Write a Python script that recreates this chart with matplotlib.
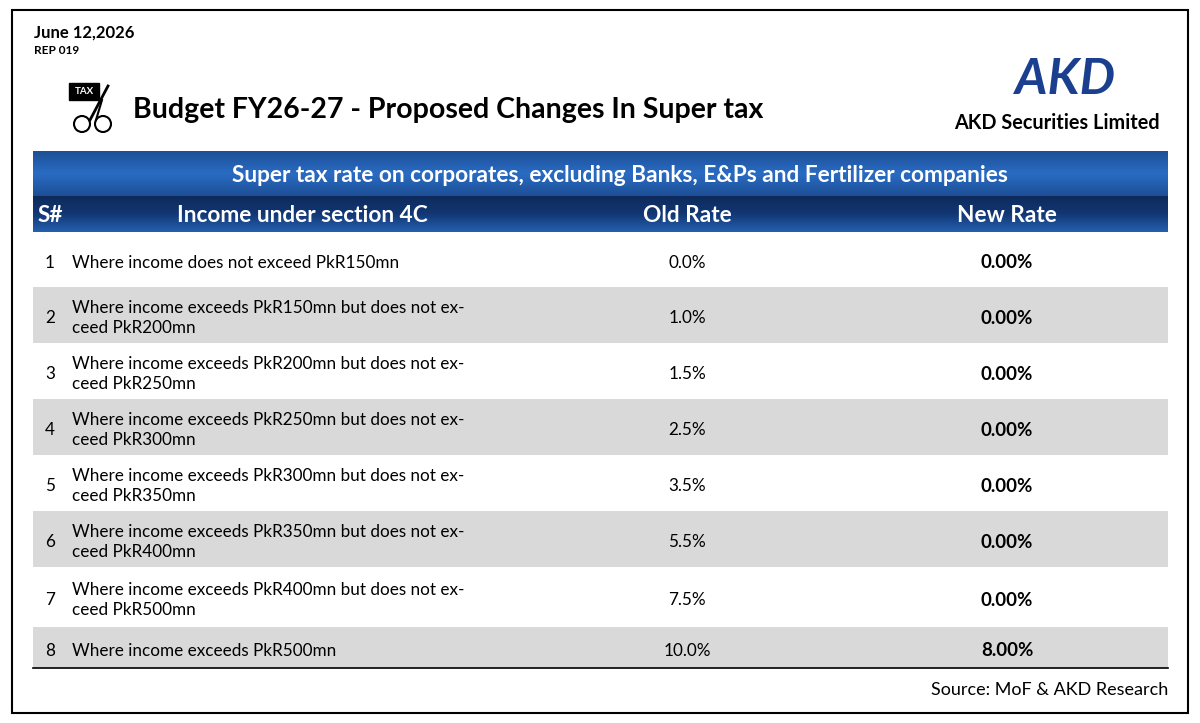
import numpy as np
import matplotlib
matplotlib.use("Agg")
import matplotlib.pyplot as plt
from matplotlib.patches import Rectangle, Circle

plt.rcParams['font.family'] = ['Lato', 'DejaVu Sans']

# données du tableau
serials = ["1", "2", "3", "4", "5", "6", "7", "8"]
incomes = [
    "Where income does not exceed PkR150mn",
    "Where income exceeds PkR150mn but does not ex-\nceed PkR200mn",
    "Where income exceeds PkR200mn but does not ex-\nceed PkR250mn",
    "Where income exceeds PkR250mn but does not ex-\nceed PkR300mn",
    "Where income exceeds PkR300mn but does not ex-\nceed PkR350mn",
    "Where income exceeds PkR350mn but does not ex-\nceed PkR400mn",
    "Where income exceeds PkR400mn but does not ex-\nceed PkR500mn",
    "Where income exceeds PkR500mn",
]
old_rates = [0.0, 1.0, 1.5, 2.5, 3.5, 5.5, 7.5, 10.0]
new_rates = [0.0, 0.0, 0.0, 0.0, 0.0, 0.0, 0.0, 8.0]
headers = ["S#", "Income under section 4C", "Old Rate", "New Rate"]

fig = plt.figure(figsize=(12, 7.23), dpi=100)
ax = fig.add_axes([0, 0, 1, 1])
ax.set_xlim(0, 1200)
ax.set_ylim(723, 0)
ax.axis('off')

# cadre extérieur
ax.add_patch(Rectangle((12, 10), 1176, 703, fill=False, ec='black', lw=1.5))

ax.text(34, 33, "June 12,2026", fontsize=12, fontweight='bold', va='center')
ax.text(34, 51, "REP 019", fontsize=8.5, fontweight='bold', va='center')
ax.text(133, 110, "Budget FY26-27 - Proposed Changes In Super tax",
        fontsize=20.5, fontweight='bold', va='center')

# icône taxe
ax.add_patch(Rectangle((69, 83), 30, 17, fc='black', ec='black'))
ax.text(84, 91.5, "TAX", color='white', fontsize=7, fontweight='bold', ha='center', va='center')
ax.plot([108, 90], [86, 120], color='black', lw=2)
ax.plot([102, 96], [100, 120], color='black', lw=1.5)
ax.add_patch(Circle((82, 124), 8, fill=False, ec='black', lw=1.5))
ax.add_patch(Circle((103, 124), 8, fill=False, ec='black', lw=1.5))

# logo
ax.text(1065, 80, "AKD", fontsize=36, fontweight='bold', style='italic',
        color='#1b3f8f', ha='center', va='center')
ax.text(1057, 123, "AKD Securities Limited", fontsize=14.3, fontweight='bold',
        ha='center', va='center')

# bandeaux dégradés
def gradient(y0, y1, c_top, c_mid, c_bot):
    t = np.linspace(0, 1, 64)
    c_top, c_mid, c_bot = [np.array(matplotlib.colors.to_rgb(c)) for c in (c_top, c_mid, c_bot)]
    cols = np.array([c_top + (c_mid - c_top) * 2 * s if s < 0.5 else c_mid + (c_bot - c_mid) * (2 * s - 1) for s in t])
    ax.imshow(cols[:, None, :], extent=(33, 1168, y1, y0), aspect='auto', zorder=1)

gradient(151, 196, '#1d4f96', '#2a6cc4', '#1d4f96')
gradient(196, 232, '#0e2a5c', '#123774', '#2560b0')
ax.text(620, 175, "Super tax rate on corporates, excluding Banks, E&Ps and Fertilizer companies",
        color='white', fontsize=16.3, fontweight='bold', ha='center', va='center', zorder=3)
hx = [38, 302, 687, 1007]
for i, h in enumerate(headers):
    ax.text(hx[i], 216, h, color='white', fontsize=16.3, fontweight='bold',
            ha='left' if i == 0 else 'center', va='center', zorder=3)

# lignes du tableau
edges = [232, 287, 343, 399, 455, 511, 567, 627, 668]
for i in range(len(serials)):
    y0, y1 = edges[i], edges[i + 1]
    if i % 2 == 1:
        ax.add_patch(Rectangle((33, y0), 1135, y1 - y0, fc='#d9d9d9', ec='none', zorder=1))
    yc = (y0 + y1) / 2 + 3
    ax.text(50, yc, serials[i], fontsize=12.3, ha='center', va='center', zorder=3)
    ax.text(72, yc, incomes[i], fontsize=12.3, ha='left', va='center', linespacing=1.35, zorder=3)
    ax.text(687, yc, f"{old_rates[i]:.1f}%", fontsize=12.3, ha='center', va='center', zorder=3)
    ax.text(1007, yc, f"{new_rates[i]:.2f}%", fontsize=13.5, fontweight='bold',
            ha='center', va='center', zorder=3)
ax.plot([33, 1168], [668, 668], color='black', lw=1.2, zorder=3)

ax.text(1168, 690, "Source: MoF & AKD Research", fontsize=13, ha='right', va='center')

fig.savefig("out.png", dpi=100)
